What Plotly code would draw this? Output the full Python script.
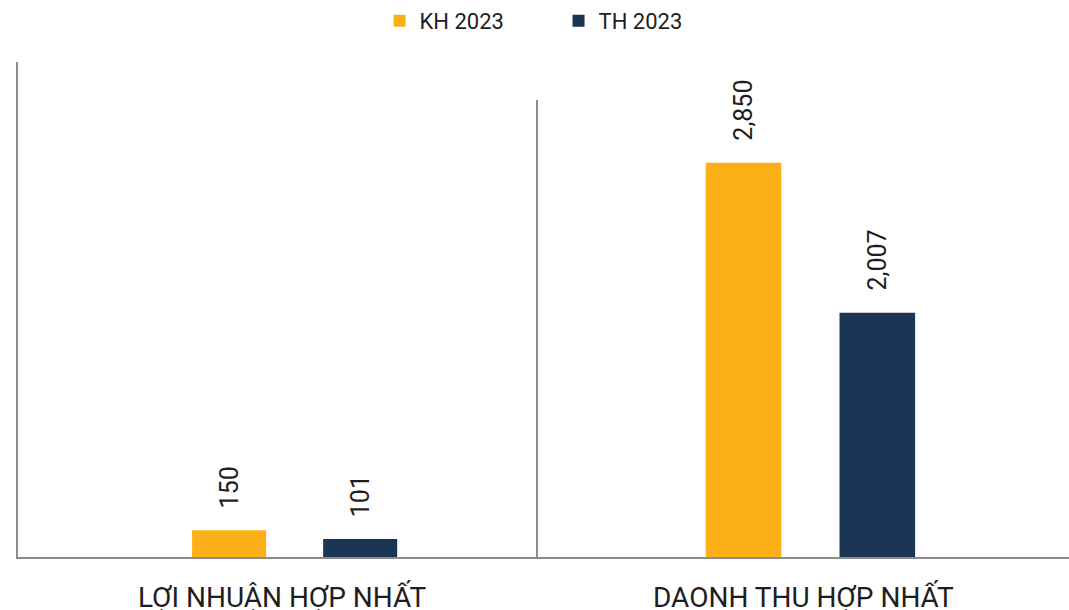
import plotly.graph_objects as go
from plotly.subplots import make_subplots

W, H = 1069, 610

categories = ['LỢI NHUẬN HỢP NHẤT', 'DAONH THU HỢP NHẤT']
series_names = ['KH 2023', 'TH 2023']
kh_2023 = [150, 2850]
th_2023 = [101, 2007]
y_ranges = [[0, 2781], [635, 3202]]
x_ranges = [[-0.532, 0.468], [-0.513, 0.487]]

ORANGE = '#FCAF17'
NAVY = '#1B3555'
AXIS = '#8C8C8C'
TEXT = '#1E1E1E'
FONT = 'Roboto, sans-serif'

# pixel layout of the two panels
x_dom = [[18 / W, 538 / W], [538 / W, 1.0]]
y_dom = [[1 - 557 / H, 1 - 62 / H], [1 - 557 / H, 1 - 100 / H]]

BARGAP = 0.496
GROUPGAP = 0.435

fig = make_subplots(rows=1, cols=2)

for i, cat in enumerate(categories):
    for name, vals, color in [(series_names[0], kh_2023, ORANGE),
                              (series_names[1], th_2023, NAVY)]:
        fig.add_trace(go.Bar(
            x=[cat], y=[vals[i]], name=name, marker_color=color,
            marker_line_width=0, showlegend=(i == 0), legendgroup=name,
        ), row=1, col=i + 1)

annotations = []
for i, cat in enumerate(categories):
    xa = 'x' if i == 0 else 'x2'
    ya = 'y' if i == 0 else 'y2'
    px_per_unit = (x_dom[i][1] - x_dom[i][0]) * W
    half_slot = (1 - BARGAP) / 4 * px_per_unit
    for vals, sign in [(kh_2023, -1), (th_2023, 1)]:
        annotations.append(dict(
            x=cat, y=vals[i], xref=xa, yref=ya, text=f'{vals[i]:,}',
            showarrow=False, textangle=-90, xanchor='center', yanchor='bottom',
            xshift=sign * half_slot, yshift=20,
            font=dict(family=FONT, size=25, color=TEXT),
        ))
    annotations.append(dict(
        x=(x_dom[i][0] + x_dom[i][1]) / 2 + (0.004 if i == 0 else 0), y=1 - 578 / H,
        xref='paper', yref='paper', text=cat, showarrow=False,
        xanchor='center', yanchor='top',
        font=dict(family=FONT, size=28, color=TEXT),
    ))

fig.update_layout(
    width=W, height=H,
    paper_bgcolor='white', plot_bgcolor='white',
    margin=dict(l=0, r=0, t=0, b=0),
    barmode='group', bargap=BARGAP, bargroupgap=GROUPGAP,
    font=dict(family=FONT, color=TEXT),
    legend=dict(orientation='h', x=0.5225, xanchor='center', y=1 - 21 / H, yanchor='middle',
                font=dict(family=FONT, size=22, color=TEXT),
                entrywidth=134, entrywidthmode='pixels', itemsizing='constant'),
    annotations=annotations,
)

for i in range(2):
    fig.update_xaxes(domain=x_dom[i], range=x_ranges[i], showticklabels=False,
                     showgrid=False, zeroline=False, showline=True,
                     linecolor=AXIS, linewidth=2, ticks='', row=1, col=i + 1)
    fig.update_yaxes(domain=y_dom[i], range=y_ranges[i], showticklabels=False,
                     showgrid=False, zeroline=False, showline=True,
                     linecolor=AXIS, linewidth=2, ticks='', row=1, col=i + 1)

fig.write_html('out.html', config={'displayModeBar': False},
               post_script="document.body.style.margin='0';")
